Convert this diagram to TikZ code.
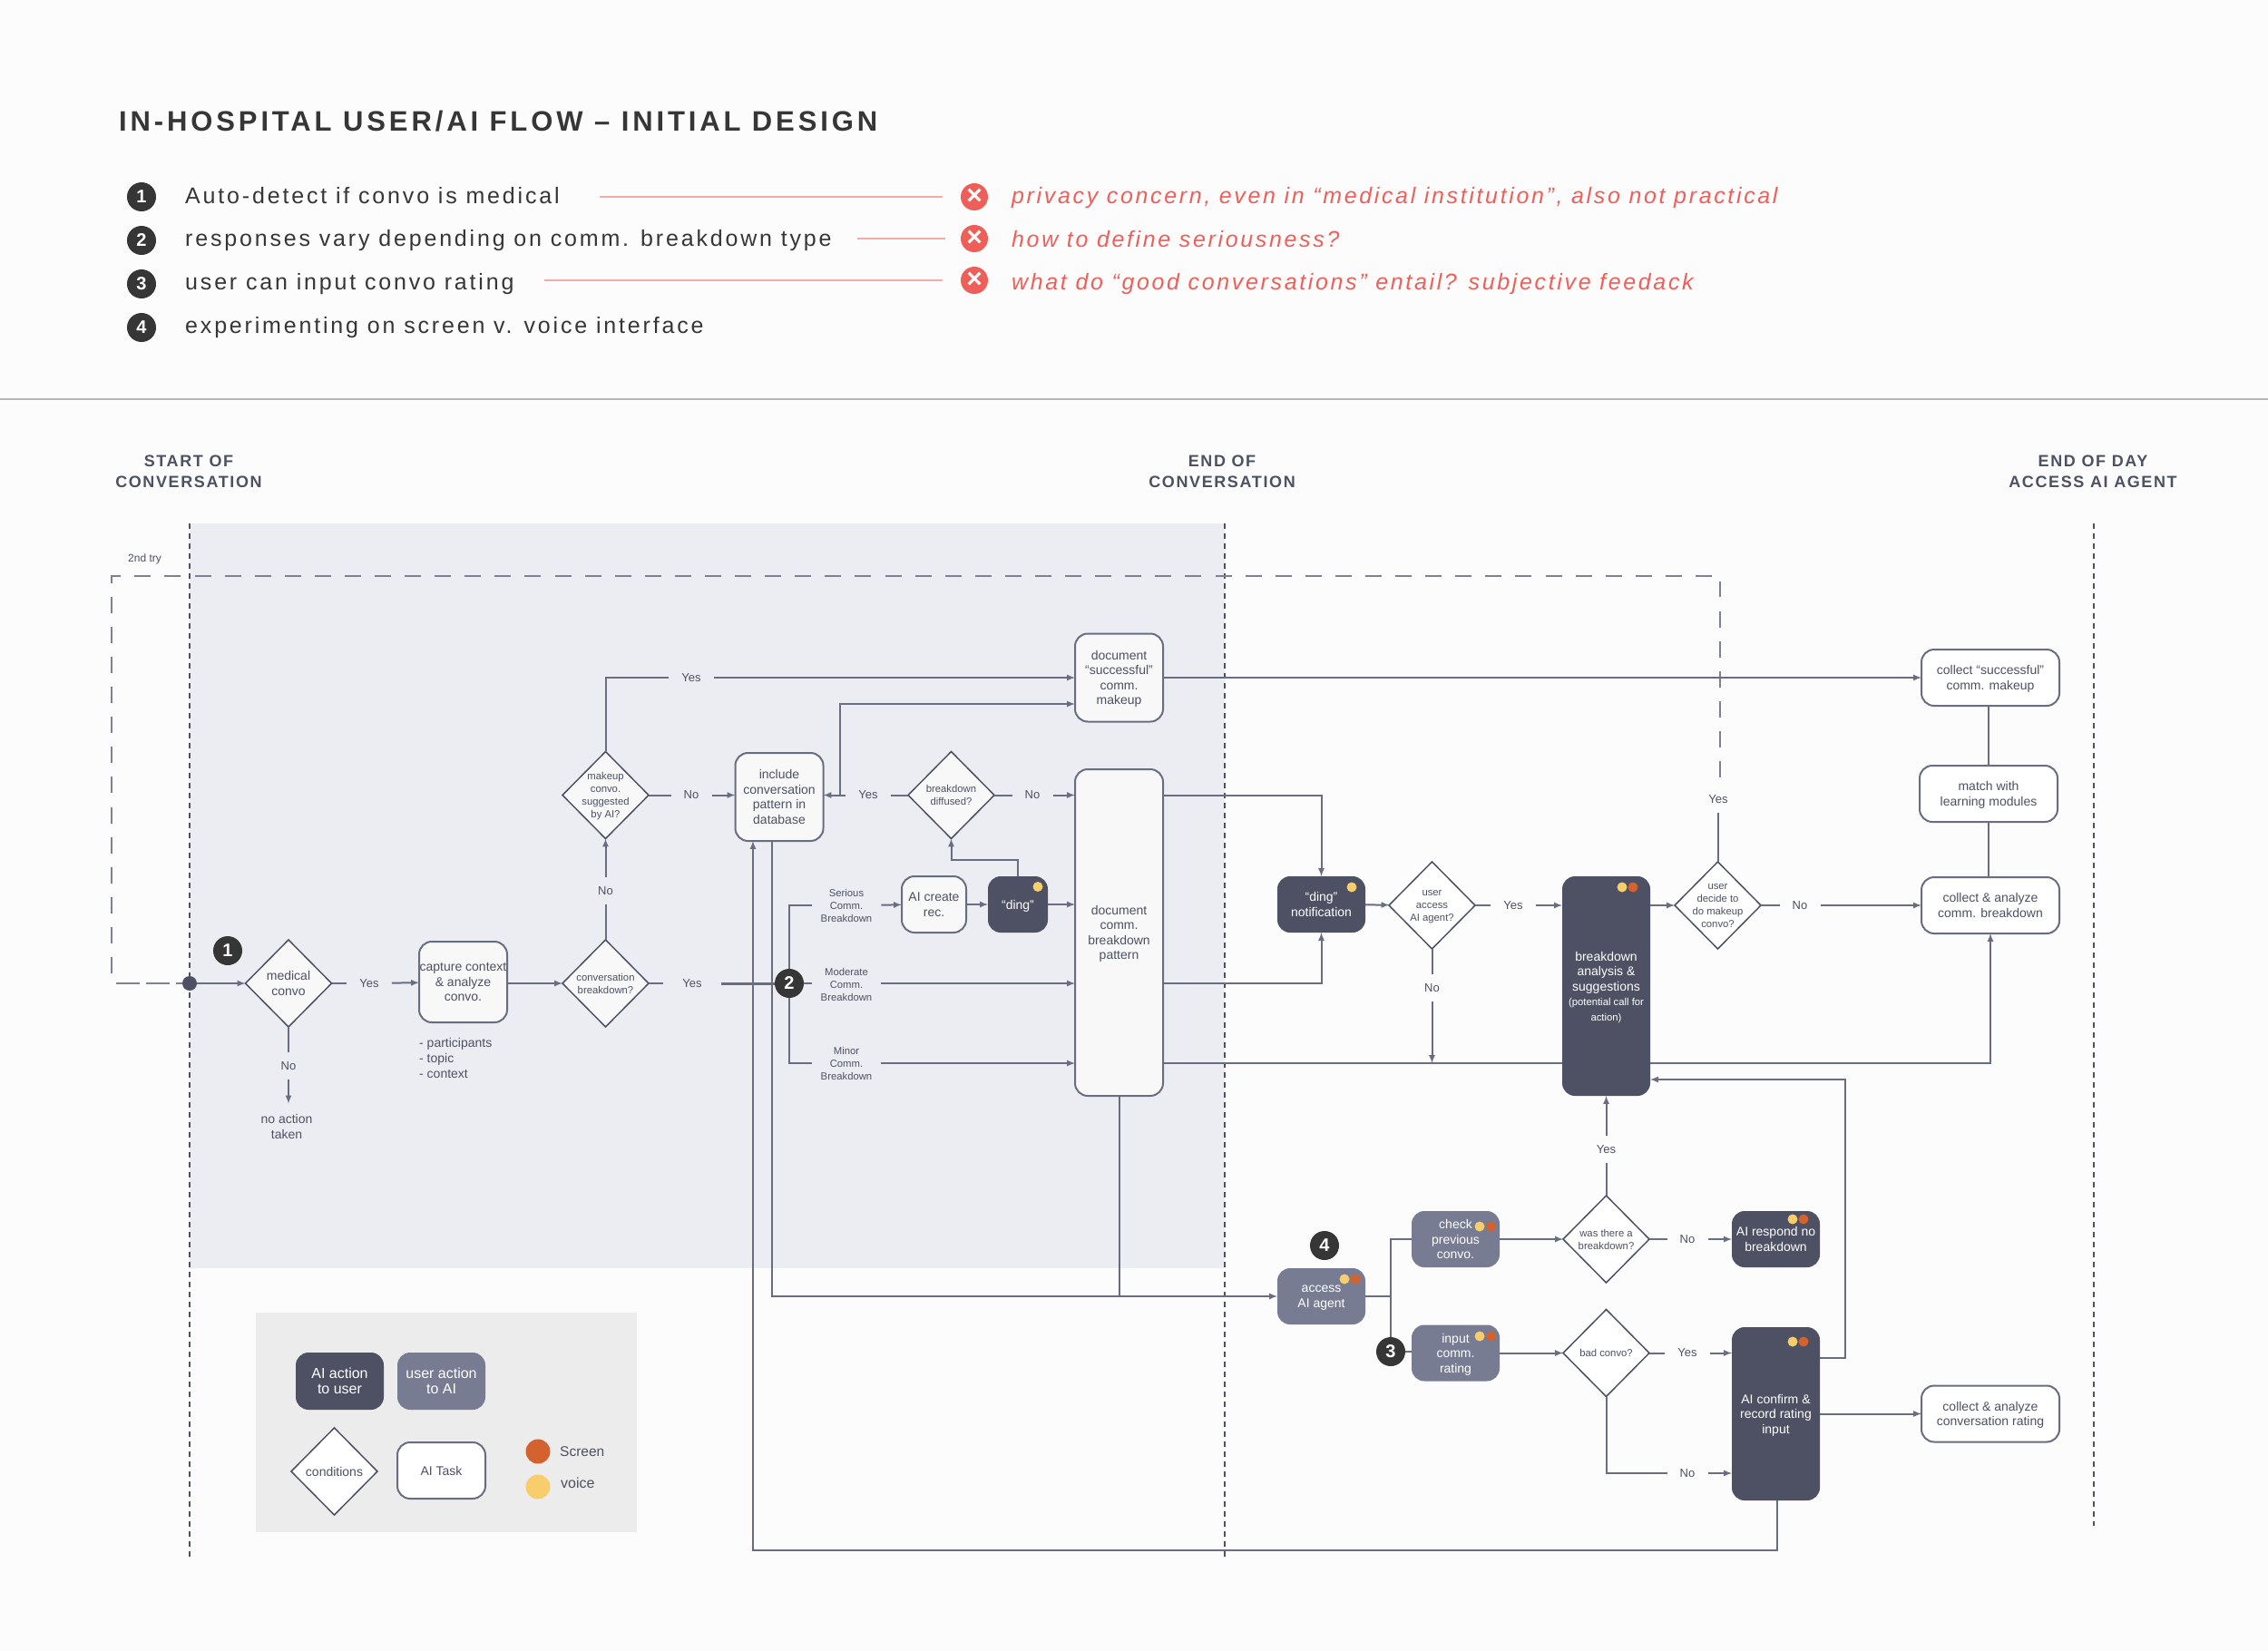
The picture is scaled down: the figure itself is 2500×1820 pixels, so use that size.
\documentclass[tikz,border=0pt]{standalone}
\usepackage{fontspec}
\setmainfont{Liberation Sans}
\newfontfamily\spacedfont{Liberation Sans}[LetterSpace=9]
\newfontfamily\listfont{Liberation Sans}[LetterSpace=11.3]
\newfontfamily\verdictfont{Liberation Sans}[LetterSpace=10.6]
\newfontfamily\titlefont{Liberation Sans}[LetterSpace=12.5]
\usetikzlibrary{shapes.geometric}

\definecolor{ink}{HTML}{4D5163}
\definecolor{usercol}{HTML}{787C92}
\definecolor{edge}{HTML}{696D82}
\definecolor{retrycol}{HTML}{7E8194}
\definecolor{shadecol}{HTML}{ECEDF3}
\definecolor{boxfill}{HTML}{F8F8F8}
\definecolor{legendbg}{HTML}{ECECEC}
\definecolor{charcoal}{HTML}{363636}
\definecolor{voicecol}{HTML}{F8CD6B}
\definecolor{screencol}{HTML}{D4622F}
\definecolor{wrong}{HTML}{EF5F5A}
\definecolor{wrongline}{HTML}{F6A9A9}

\newcommand{\fnorm}{\fontsize{14}{16.5}\selectfont}
\newcommand{\fsmall}{\fontsize{11.3}{14}\selectfont}
\newcommand{\flbl}{\fontsize{13}{16}\selectfont}
\newcommand{\flegend}{\fontsize{16}{17}\selectfont}

\tikzstyle{box}=[draw=edge, fill=boxfill, rounded corners=14pt, line width=2pt, align=center, font=\fnorm, text=ink, inner sep=0pt, outer sep=0pt, minimum width=97pt, text depth=-3pt]
\tikzstyle{whitebox}=[box, fill=white]
\tikzstyle{aibox}=[box, draw=none, fill=ink, text=white]
\tikzstyle{userbox}=[box, draw=none, fill=usercol, text=white]
\tikzstyle{cond}=[diamond, draw=ink, fill=boxfill, line width=1.5pt, align=center, font=\fnorm, text=ink, inner sep=-40pt, outer sep=0pt, minimum width=95pt, minimum height=96pt, text depth=-3pt]
\tikzstyle{lbl}=[font=\flbl, text=ink, inner xsep=14pt, inner ysep=10pt]
\tikzstyle{commlbl}=[font=\fsmall, text=ink, align=center, inner xsep=10pt, inner ysep=0pt]
\tikzstyle{note}=[font=\fnorm, text=ink, align=center, inner sep=0pt]
\tikzstyle{header}=[font=\spacedfont\bfseries\fontsize{18}{22.5}\selectfont, text=ink, align=center, inner sep=0pt]
\tikzstyle{badge}=[circle, fill=charcoal, text=white, font=\bfseries\fontsize{20}{20}\selectfont, inner sep=0pt, minimum size=32pt]
\tikzstyle{cross}=[circle, fill=wrong, text=white, font=\bfseries\fontsize{30}{30}\selectfont, inner sep=0pt, minimum size=30pt]
\tikzstyle{item}=[anchor=west, font=\listfont\fontsize{25}{30}\selectfont, text=charcoal, inner sep=0pt]
\tikzstyle{verdict}=[anchor=west, font=\verdictfont\itshape\fontsize{25}{30}\selectfont, text=wrong, inner sep=0pt]
\tikzstyle{voicedot}=[circle, fill=voicecol, inner sep=0pt, minimum size=11pt]
\tikzstyle{screendot}=[circle, fill=screencol, inner sep=0pt, minimum size=11pt]
\tikzstyle{flow}=[draw=edge, line width=2pt]
\tikzstyle{arrow}=[flow, -latex]
\tikzstyle{boundary}=[draw=ink, line width=1.3pt, dash pattern=on 6pt off 5pt]
\tikzstyle{retry}=[draw=retrycol, line width=1.7pt, dash pattern=on 18pt off 15.09pt]
\tikzstyle{retrylow}=[draw=retrycol, line width=1.7pt, dash pattern=on 25.5pt off 7.6pt]
\tikzstyle{wrongrule}=[draw=wrongline, line width=2pt]

\begin{document}
\begin{tikzpicture}[x=1pt, y=-1pt]
      \useasboundingbox (0, 0) rectangle (2500, 1820);
      \fill[white!99!black] (0, 0) rectangle (2500, 1820);
      \fill[shadecol] (209, 577) rectangle (1350, 1398);
      \fill[legendbg] (282, 1447) rectangle (702, 1689);
      \draw[black!28, line width=1.5pt] (0, 440) -- (2500, 440);

      \node[anchor=west, font=\titlefont\bfseries\fontsize{31}{36}\selectfont, text=charcoal, inner sep=0pt] (title) at (131, 134) {IN-HOSPITAL USER/AI FLOW – INITIAL DESIGN};

      \node[badge] (list1) at (156, 217) {1};
      \node[badge] (list2) at (156, 265) {2};
      \node[badge] (list3) at (156, 313) {3};
      \node[badge] (list4) at (156, 361) {4};
      \node[item] (item1) at (204, 216) {Auto-detect if convo is medical};
      \node[item] (item2) at (204, 265) {responses vary depending on comm. breakdown type};
      \node[item] (item3) at (204, 313) {user can input convo rating};
      \node[item] (item4) at (204, 361) {experimenting on screen v. voice interface};
      \node[cross] (cross1) at (1074, 217) {×};
      \node[cross] (cross2) at (1074, 263) {×};
      \node[cross] (cross3) at (1074, 309) {×};
      \node[verdict] (verdict1) at (1115, 218) {privacy concern, even in “medical institution”, also not practical};
      \node[verdict] (verdict2) at (1115, 264) {how to define seriousness?};
      \node[verdict] (verdict3) at (1115, 313) {what do “good conversations” entail? subjective feedack};
      \coordinate (rule1) at (661, 217);
      \coordinate (rule2) at (945, 263);
      \coordinate (rule3) at (600, 309);

      \node[header] (start) at (208, 520) {START OF\\CONVERSATION};
      \node[header] (end) at (1347, 520) {END OF\\CONVERSATION};
      \node[header] (endday) at (2307, 520) {END OF DAY\\ACCESS AI AGENT};
      \node[font=\fontsize{12}{14}\selectfont, text=ink, anchor=west, inner sep=0pt] (secondtry) at (141, 616) {2nd try};

      \coordinate (starttop) at (209, 577);
      \coordinate (startbot) at (209, 1717);
      \coordinate (endtop) at (1350, 577);
      \coordinate (endbot) at (1350, 1717);
      \coordinate (daytop) at (2308, 577);
      \coordinate (daybot) at (2308, 1682);

      \node[circle, fill=ink, inner sep=0pt, minimum size=16pt] (dot) at (209, 1084) {};
      \node[badge] (mark1) at (251, 1048) {1};
      \node[cond] (medical) at (318, 1084) {medical\\convo};
      \node[lbl] (yesmed) at (407, 1084) {Yes};
      \node[lbl] (nomed) at (318, 1175) {No};
      \node[note, inner ysep=12pt] (noaction) at (316, 1242) {no action\\taken};
      \node[box, minimum height=89pt] (capture) at (510.5, 1082.5) {capture context\\\& analyze\\convo.};
      \node[note, anchor=west, align=left, font=\fontsize{14}{17}\selectfont] (details) at (462, 1166) {- participants\\- topic\\- context};
      \node[cond, font=\fsmall] (breakdown) at (667.5, 1084) {conversation\\breakdown?};
      \node[lbl, inner xsep=21pt] (yesbreak) at (763, 1084) {Yes};
      \node[lbl] (nobreak) at (667.5, 982) {No};
      \node[cond, font=\fsmall] (makeup) at (667.5, 876.5) {makeup\\convo.\\suggested\\by AI?};
      \node[lbl] (yesmakeup) at (762, 747) {Yes};
      \node[lbl] (nomakeup) at (762, 876.5) {No};
      \node[box, minimum height=97pt] (include) at (859, 878.5) {include\\conversation\\pattern in\\database};
      \node[badge] (mark2) at (870, 1084) {2};
      \node[commlbl] (serious) at (933, 998) {Serious\\Comm.\\Breakdown};
      \node[commlbl] (moderate) at (933, 1085) {Moderate\\Comm.\\Breakdown};
      \node[commlbl] (minor) at (933, 1172) {Minor\\Comm.\\Breakdown};
      \node[box, minimum width=71pt, minimum height=62pt] (airec) at (1029.5, 997) {AI create\\rec.};
      \node[aibox, minimum width=66pt, minimum height=62pt] (ding) at (1122, 997) {“ding”};
      \node[voicedot] (dingvoice) at (1144, 977.5) {};
      \node[cond, font=\fsmall] (diffused) at (1048.5, 876.5) {breakdown\\diffused?};
      \node[lbl] (yesdiff) at (957, 876.5) {Yes};
      \node[lbl] (nodiff) at (1138, 876.5) {No};
      \node[box, minimum height=97pt] (docok) at (1233.5, 747) {document\\“successful”\\comm.\\makeup};
      \node[box, minimum height=360pt] (docbreak) at (1233.5, 1028) {document\\comm.\\breakdown\\pattern};

      \node[aibox, minimum height=62pt] (dingnote) at (1456.5, 997) {“ding”\\notification};
      \node[voicedot] (notevoice) at (1490, 978) {};
      \node[cond, fill=white, font=\fsmall] (useraccess) at (1578.5, 998) {user\\access\\AI agent?};
      \node[lbl] (yesaccess) at (1668, 998) {Yes};
      \node[lbl] (noaccess) at (1578.5, 1089) {No};
      \node[aibox, minimum height=242pt] (analysis) at (1770.5, 1087) {breakdown\\analysis \&\\suggestions\\{\fsmall (potential call for}\\{\fsmall action)}};
      \node[voicedot] (analysisvoice) at (1788, 978) {};
      \node[screendot] (analysisscreen) at (1800, 978) {};
      \node[cond, fill=white, font=\fsmall] (userdecide) at (1893.5, 998) {user\\decide to\\do makeup\\convo?};
      \node[lbl] (yesdecide) at (1894, 881) {Yes};
      \node[lbl] (nodecide) at (1984, 998) {No};
      \node[whitebox, minimum width=152pt, minimum height=62pt] (collectok) at (2194, 747) {collect “successful”\\comm. makeup};
      \node[whitebox, minimum width=152pt, minimum height=62pt] (modules) at (2192, 875) {match with\\learning modules};
      \node[whitebox, minimum width=152pt, minimum height=62pt] (collectbreak) at (2194, 998) {collect \& analyze\\comm. breakdown};

      \node[badge] (mark4) at (1460, 1373) {4};
      \node[userbox, minimum height=62pt] (access) at (1456.5, 1429) {access\\AI agent};
      \node[voicedot] (accessvoice) at (1482, 1410) {};
      \node[screendot] (accessscreen) at (1494, 1410) {};
      \node[userbox, minimum height=62pt] (check) at (1604.5, 1366) {check\\previous\\convo.};
      \node[voicedot] (checkvoice) at (1631, 1352) {};
      \node[screendot] (checkscreen) at (1643.5, 1352) {};
      \node[userbox, minimum height=62pt] (rating) at (1604.5, 1491.5) {input\\comm.\\rating};
      \node[voicedot] (ratingvoice) at (1631, 1473) {};
      \node[screendot] (ratingscreen) at (1643.5, 1473) {};
      \node[badge] (mark3) at (1533, 1490) {3};
      \node[cond, fill=white, font=\fsmall] (wasthere) at (1770.5, 1366) {was there a\\breakdown?};
      \node[lbl] (yeswas) at (1770.5, 1267) {Yes};
      \node[lbl] (nowas) at (1860, 1366) {No};
      \node[aibox, minimum height=62pt] (respond) at (1957.5, 1366) {AI respond no\\breakdown};
      \node[voicedot] (respondvoice) at (1976, 1344) {};
      \node[screendot] (respondscreen) at (1988, 1344) {};
      \node[cond, fill=white, font=\fsmall] (bad) at (1770.5, 1491.5) {bad convo?};
      \node[lbl] (yesbad) at (1860, 1491.5) {Yes};
      \node[lbl] (nobad) at (1860, 1624) {No};
      \node[aibox, minimum height=191pt] (confirm) at (1957.5, 1558.5) {AI confirm \&\\record rating\\input};
      \node[voicedot] (confirmvoice) at (1976, 1479) {};
      \node[screendot] (confirmscreen) at (1988, 1479) {};
      \node[whitebox, minimum width=152pt, minimum height=62pt] (collectrating) at (2194, 1558.5) {collect \& analyze\\conversation rating};

      \node[aibox, font=\flegend, minimum height=63pt] (legendai) at (374.5, 1522.5) {AI action\\to user};
      \node[userbox, font=\flegend, minimum height=63pt] (legenduser) at (486.5, 1522.5) {user action\\to AI};
      \node[cond, fill=white] (legendcond) at (368.5, 1622) {conditions};
      \node[whitebox, minimum height=62pt] (legendtask) at (486.5, 1621) {AI Task};
      \node[circle, fill=screencol, inner sep=0pt, minimum size=27pt] (legendscreen) at (593, 1600) {};
      \node[circle, fill=voicecol, inner sep=0pt, minimum size=27pt] (legendvoice) at (593, 1639) {};
      \node[anchor=west, font=\fontsize{15.5}{17}\selectfont, text=ink, inner sep=0pt] (screentext) at (617, 1600) {Screen};
      \node[anchor=west, font=\fontsize{16}{17}\selectfont, text=ink, inner sep=0pt] (voicetext) at (618, 1635) {voice};

      \coordinate (retrylow) at (128, 1084);
      \coordinate (retryleft) at (123, 1073);
      \coordinate (retrycorner) at (123, 635);
      \coordinate (retryend) at (1887, 635);
      \coordinate (retryup) at (1896, 857);
      \coordinate (retrytop) at (1896, 641);
      \coordinate (dbin) at (830, 927);
      \coordinate (dbout) at (851, 927);
      \coordinate (loopcorner) at (830, 1709);
      \coordinate (confirmout) at (1959, 1654);
      \coordinate (branchok) at (926, 876.5);
      \coordinate (okin) at (1185, 776);
      \coordinate (confirmup) at (2006, 1497);
      \coordinate (riser) at (2034, 1190);

      \draw[wrongrule, shorten >=20pt] (rule1) -- (cross1);
      \draw[wrongrule, shorten >=17pt] (rule2) -- (cross2);
      \draw[wrongrule, shorten >=20pt] (rule3) -- (cross3);

      \draw[boundary] (starttop) -- (startbot);
      \draw[boundary] (endtop) -- (endbot);
      \draw[boundary] (daytop) -- (daybot);
      \draw[retrylow] (retrylow) -- (dot);
      \draw[retry] (retryend) -- (retrycorner) -- (retryleft);
      \draw[retry] (retryup) -- (retrytop);

      \draw[arrow] (dot) -- (medical);
      \draw[flow] (medical) -- (yesmed);
      \draw[arrow] (yesmed) -- (capture);
      \draw[flow] (medical) -- (nomed);
      \draw[arrow] (nomed) -- (nomed |- noaction.north);
      \draw[arrow] (capture.east |- breakdown) -- (breakdown);
      \draw[flow] (breakdown) -- (nobreak);
      \draw[arrow] (nobreak) -- (makeup);
      \draw[flow] (makeup.north) |- (yesmakeup);
      \draw[arrow] (yesmakeup) -- (docok);
      \draw[flow] (makeup) -- (nomakeup);
      \draw[arrow] (nomakeup) -- (nomakeup -| include.west);
      \draw[flow] (breakdown) -- (yesbreak);
      \draw[flow, line width=3pt] (yesbreak) -- (mark2);

      \draw[flow] (serious.west) -| (mark2);
      \draw[flow] (minor.west) -| (mark2);
      \draw[flow] (mark2) -- (mark2 -| moderate.west);
      \draw[arrow] (serious) -- (airec);
      \draw[arrow] (airec) -- (ding);
      \draw[arrow] (ding) -- (ding -| docbreak.west);
      \draw[arrow] (moderate.east |- mark2) -- (mark2 -| docbreak.west);
      \draw[arrow] (minor) -- (minor -| docbreak.west);
      \draw[arrow] (ding.north) |- (1048.5, 948) -- (diffused);
      \draw[flow] (diffused) -- (yesdiff);
      \draw[arrow] (yesdiff) -- (yesdiff -| include.east);
      \draw[flow] (diffused) -- (nodiff);
      \draw[arrow] (nodiff) -- (nodiff -| docbreak.west);
      \draw[arrow] (branchok) |- (okin);

      \draw[arrow] (dbout) |- (access.west);
      \draw[flow] (docbreak.south) -- (docbreak.south |- access.west);
      \draw[arrow] (confirmout) |- (loopcorner) -- (dbin);

      \draw[arrow] (docok.east) -- (collectok.west);
      \draw[arrow] (docbreak.east |- diffused) -| (dingnote.north);
      \draw[arrow] (docbreak.east |- mark2) -| (dingnote.south);
      \draw[flow] (docbreak.east |- minor) -- (minor -| analysis.west);
      \draw[arrow] (minor -| analysis.east) -| (collectbreak.south);
      \draw[arrow] (dingnote) -- (useraccess);
      \draw[flow] (useraccess) -- (yesaccess);
      \draw[arrow] (yesaccess) -- (yesaccess -| analysis.west);
      \draw[flow] (useraccess) -- (noaccess);
      \draw[arrow] (noaccess) -- (noaccess |- minor);
      \draw[arrow] (analysis.east |- userdecide) -- (userdecide);
      \draw[flow] (userdecide) -- (userdecide |- yesdecide.south);
      \draw[flow] (userdecide) -- (nodecide);
      \draw[arrow] (nodecide) -- (collectbreak);
      \draw[flow] (collectok.south -| modules) -- (modules);
      \draw[flow] (modules) -- (modules |- collectbreak.north);

      \draw[flow] (access.east) -- (access -| mark3);
      \draw[flow] (check.west) -| (mark3);
      \draw[flow] (mark3) -- (mark3 -| rating.west);
      \draw[arrow] (check) -- (wasthere);
      \draw[flow] (wasthere) -- (yeswas);
      \draw[arrow] (yeswas) -- (analysis);
      \draw[flow] (wasthere) -- (nowas);
      \draw[arrow] (nowas) -- (respond);
      \draw[arrow] (rating) -- (bad);
      \draw[flow] (bad) -- (yesbad);
      \draw[arrow] (yesbad) -- (yesbad -| confirm.west);
      \draw[flow] (bad.south) |- (nobad);
      \draw[arrow] (nobad) -- (nobad -| confirm.west);
      \draw[arrow] (confirm) -- (collectrating);
      \draw[arrow] (confirmup) -| (riser) -- (riser -| analysis.east);
    \end{tikzpicture}
\end{document}
